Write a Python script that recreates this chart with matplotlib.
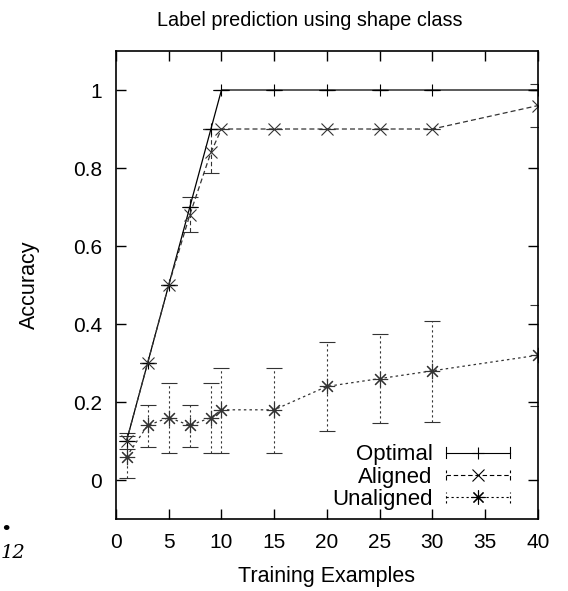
import matplotlib
matplotlib.use('Agg')
import matplotlib.pyplot as plt
from matplotlib.legend_handler import HandlerBase
from matplotlib.lines import Line2D

plt.rcParams['font.family'] = ['Liberation Sans', 'DejaVu Sans']

# data
x = [1, 3, 5, 7, 9, 10, 15, 20, 25, 30, 40]

optimal = [0.1, 0.3, 0.5, 0.7, 0.9, 1, 1, 1, 1, 1, 1]

aligned = [0.1, 0.3, 0.5, 0.68, 0.84, 0.9, 0.9, 0.9, 0.9, 0.9, 0.96]
aligned_lo = [0.08, 0.3, 0.5, 0.635, 0.787, 0.9, 0.9, 0.9, 0.9, 0.9, 0.905]
aligned_hi = [0.12, 0.3, 0.5, 0.725, 0.9, 0.9, 0.9, 0.9, 0.9, 0.9, 1.015]

unaligned = [0.06, 0.14, 0.16, 0.14, 0.16, 0.18, 0.18, 0.24, 0.26, 0.28, 0.32]
unaligned_lo = [0.005, 0.085, 0.069, 0.085, 0.069, 0.069, 0.069, 0.126, 0.145, 0.148, 0.19]
unaligned_hi = [0.113, 0.192, 0.248, 0.192, 0.248, 0.288, 0.288, 0.353, 0.374, 0.408, 0.449]

xticks = [0, 5, 10, 15, 20, 25, 30, 35, 40]
yticks = [0, 0.2, 0.4, 0.6, 0.8, 1]
yticklabels = ['0', '0.2', '0.4', '0.6', '0.8', '1']

STAR = (8, 2, 0)
DASH_A = (0, (4, 2.5))
DASH_U = (0, (2, 2.5))


class GnuplotHandler(HandlerBase):
    # line sample with end caps and a marker in the middle, like gnuplot
    def __init__(self, ls, marker, ms):
        super().__init__()
        self.ls = ls
        self.marker = marker
        self.ms = ms

    def create_artists(self, legend, orig_handle, xdescent, ydescent,
                       width, height, fontsize, trans):
        y0 = height / 2 - ydescent
        x0, x1 = -xdescent, width - xdescent
        cap = height * 0.35
        arts = [
            Line2D([x0, x1], [y0, y0], color='black', lw=0.8, linestyle=self.ls),
            Line2D([x0, x0], [y0 - cap, y0 + cap], color='black', lw=0.8, linestyle=self.ls),
            Line2D([x1, x1], [y0 - cap, y0 + cap], color='black', lw=0.8, linestyle=self.ls),
            Line2D([(x0 + x1) / 2], [y0], marker=self.marker, ms=self.ms,
                   color='black', mew=0.8, linestyle='none'),
        ]
        for a in arts:
            a.set_transform(trans)
        return arts


fig = plt.figure(figsize=(5.68, 5.91), dpi=100)
ax = fig.add_axes([0.2042, 0.1218, 0.7428, 0.7919])

ax.errorbar(x, optimal, yerr=[[0] * len(x), [0] * len(x)], color='black', lw=0.9,
            marker='+', ms=9, mew=0.8, capsize=6, elinewidth=0.8, capthick=0.8)

a_err = [[v - lo for v, lo in zip(aligned, aligned_lo)],
         [hi - v for v, hi in zip(aligned, aligned_hi)]]
eb = ax.errorbar(x, aligned, yerr=a_err, color='#333333', lw=0.9, linestyle=DASH_A,
                 marker='x', ms=8, mew=0.8, capsize=6, elinewidth=0.8, capthick=0.8)
eb[2][0].set_linestyle(DASH_A)

u_err = [[v - lo for v, lo in zip(unaligned, unaligned_lo)],
         [hi - v for v, hi in zip(unaligned, unaligned_hi)]]
eb = ax.errorbar(x, unaligned, yerr=u_err, color='#333333', lw=0.9, linestyle=DASH_U,
                 marker=STAR, ms=11, mew=0.8, capsize=6, elinewidth=0.8, capthick=0.8)
eb[2][0].set_linestyle(DASH_U)

ax.set_xlim(0, 40)
ax.set_ylim(-0.1, 1.1)
ax.set_xticks(xticks)
ax.set_yticks(yticks)
ax.set_yticklabels(yticklabels)
ax.tick_params(direction='in', top=True, right=True, length=7, width=1,
               labelsize=15, pad=10)
for s in ax.spines.values():
    s.set_linewidth(1.2)

ax.set_title('Label prediction using shape class', fontsize=14.3, pad=18, x=0.46)
ax.set_xlabel('Training Examples', fontsize=15.5, labelpad=10)
ax.set_ylabel('Accuracy', fontsize=15.5, labelpad=24)

h1 = Line2D([], [])
h2 = Line2D([], [])
h3 = Line2D([], [])
ax.legend([h1, h2, h3], ['Optimal', 'Aligned', 'Unaligned'], loc='lower right',
          frameon=False, markerfirst=False, fontsize=16, handlelength=2.9,
          handletextpad=0.6, labelspacing=0.06, borderaxespad=0.0,
          bbox_to_anchor=(0.956, 0.0),
          handler_map={h1: GnuplotHandler('-', '+', 9),
                       h2: GnuplotHandler(DASH_A, 'x', 8),
                       h3: GnuplotHandler(DASH_U, STAR, 10)})

# stray page fragments at the lower left
fig.text(0.0, 0.095, '\u2022', fontsize=14, family='DejaVu Serif')
fig.text(0.002, 0.055, '12', fontsize=14, family='DejaVu Serif', style='italic')

fig.savefig('out.png', dpi=100)
